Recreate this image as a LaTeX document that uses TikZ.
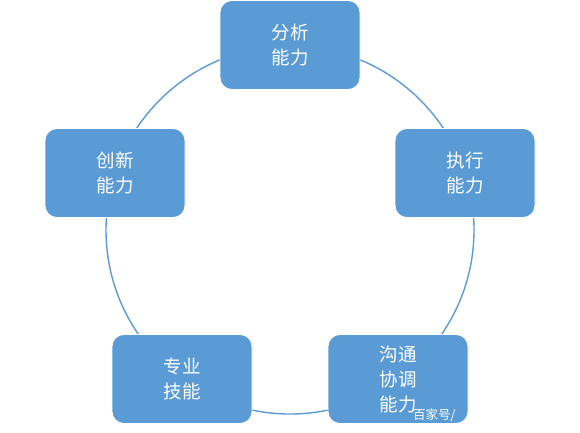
\documentclass[tikz,border=0pt]{standalone}
\usepackage{fontspec}
\setmainfont{Noto Sans CJK SC}
\definecolor{boxblue}{RGB}{91,155,213}
\begin{document}
\begin{tikzpicture}[x=1pt,y=-1pt,
  skill/.style={draw=white, line width=0.8pt, fill=boxblue, rounded corners=12pt,
    minimum width=140pt, minimum height=89pt, inner sep=0pt, text=white,
    font=\fontsize{18.5}{25}\selectfont, align=center},
  ring/.style={draw=boxblue, line width=1.4pt}]
\useasboundingbox (0,0) rectangle (580,432);
\coordinate (c) at (290,230);
\draw[ring] (c) circle[radius=184];
\node[skill] (a) at (290,45) {分析\\能力};
\node[skill] (b) at (465,173) {执行\\能力};
\node[skill] (d) at (398,379) {沟通\\协调\\能力};
\node[skill] (e) at (182,379) {专业\\技能};
\node[skill] (f) at (115,173) {创新\\能力};
\node[text=white, font=\fontsize{12.5}{12.5}\selectfont, anchor=west, inner sep=0pt] (w) at (413,415) {百家号/};
\end{tikzpicture}
\end{document}
